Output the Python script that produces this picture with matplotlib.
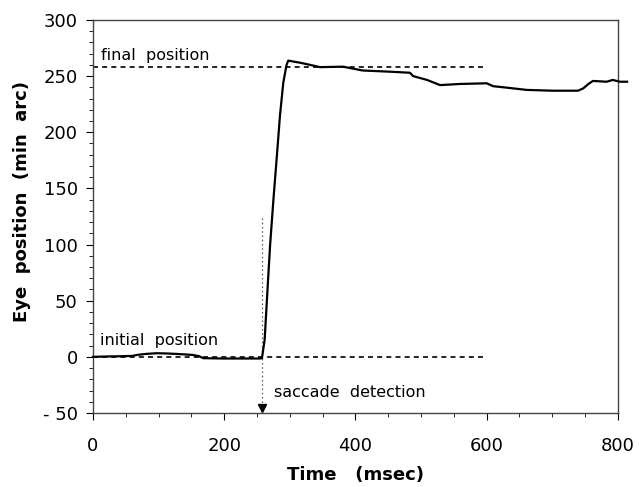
import numpy as np
import matplotlib
matplotlib.use('Agg')
import matplotlib.pyplot as plt
from matplotlib.ticker import MultipleLocator

plt.rcParams['font.family'] = ['DejaVu Sans']

# eye trace (msec, min arc)
time_ms = [0, 20, 40, 60, 67, 81, 97, 112, 127, 152, 162, 168, 200, 230, 254, 257.5,
           261.6, 266, 270, 275, 280, 285, 290, 295, 297.6, 305, 315, 331, 346, 381,
           411, 450, 483, 488, 509, 529, 559, 600, 610, 631, 661, 701, 739, 747,
           755, 762, 783, 792, 803, 814]
eye_pos = [0, 0.3, 0.5, 0.8, 1.7, 2.6, 3.2, 3.0, 2.6, 1.7, 0.5, -1.2, -1.5, -1.5, -1.5, -1.2,
           15, 60, 100, 140, 177, 215, 244, 260, 263.8, 263, 262, 260, 258, 258.4,
           255, 254, 253, 250, 246.6, 242, 243, 243.6, 241, 239.7, 237.7, 237, 237, 239,
           243, 245.7, 245, 246.6, 245, 245]

x_ticks = [0, 200, 400, 600, 800]
y_ticks = [-50, 0, 50, 100, 150, 200, 250, 300]
y_ticklabels = ['- 50', '0', '50', '100', '150', '200', '250', '300']

final_pos = 258
initial_pos = 0
detect_t = 257.5
ref_end = 600

fig = plt.figure(figsize=(6.39, 4.87), dpi=100)
ax = fig.add_axes([0.1455, 0.152, 0.8215, 0.807])

ax.plot([0, ref_end], [final_pos, final_pos], color='black', lw=1.2, ls=(0, (3, 2.5)))
ax.plot([0, ref_end], [initial_pos, initial_pos], color='black', lw=1.2, ls=(0, (3, 2.5)))
ax.plot(time_ms, eye_pos, color='black', lw=1.6, clip_on=False, zorder=3)

# saccade detection marker
ax.plot([detect_t, detect_t], [124, -44], color='#555555', lw=0.9, ls=(0, (1.2, 2.2)))
ax.plot([detect_t], [-46], marker='v', color='black', ms=6, clip_on=False)

ax.text(12, 264.4, 'final  position', fontsize=11.5, va='baseline')
ax.text(10.7, 10.6, 'initial  position', fontsize=11.5, va='baseline')
ax.text(276, -35.4, 'saccade  detection', fontsize=11.5, va='baseline')

ax.set_xlim(0, 800)
ax.set_ylim(-50, 300)
ax.set_xticks(x_ticks)
ax.set_xticklabels([str(t) for t in x_ticks])
ax.xaxis.set_minor_locator(MultipleLocator(50))
ax.set_yticks(y_ticks)
ax.set_yticklabels(y_ticklabels)
ax.yaxis.set_minor_locator(MultipleLocator(10))
ax.tick_params(which='major', direction='out', length=5, width=0.8, labelsize=13, pad=6)
ax.tick_params(which='minor', direction='out', length=3, width=0.6)
ax.tick_params(axis='x', which='major', pad=12)

for s in ax.spines.values():
    s.set_color('#444444')
    s.set_linewidth(1.0)

ax.set_xlabel('Time   (msec)', fontsize=13, fontweight='bold')
ax.set_ylabel('Eye  position  (min  arc)', fontsize=13, fontweight='bold')
ax.xaxis.set_label_coords(0.501, -0.158)
ax.xaxis.label.set_verticalalignment('center')
ax.yaxis.set_label_coords(-0.136, 0.537)
ax.yaxis.label.set_verticalalignment('center')

fig.savefig('out.png', dpi=100)
